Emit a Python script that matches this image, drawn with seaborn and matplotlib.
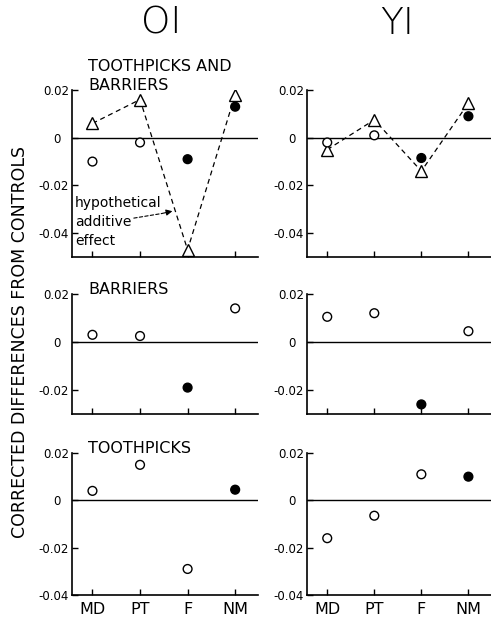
import pandas as pd
import matplotlib
matplotlib.use("Agg")
import matplotlib.pyplot as plt
import seaborn as sns

# data
groups = ["MD", "PT", "F", "NM"]

oi_both = [-0.010, -0.002, -0.009, 0.013]
oi_both_sig = [False, False, True, True]
oi_additive = [0.006, 0.016, -0.047, 0.018]
yi_both = [-0.002, 0.001, -0.0085, 0.009]
yi_both_sig = [False, False, True, True]
yi_additive = [-0.005, 0.0075, -0.014, 0.0145]

oi_barriers = [0.003, 0.0025, -0.019, 0.014]
oi_barriers_sig = [False, False, True, False]
yi_barriers = [0.0105, 0.012, -0.026, 0.0045]
yi_barriers_sig = [False, False, True, False]

oi_toothpicks = [0.004, 0.015, -0.029, 0.0045]
oi_toothpicks_sig = [False, False, False, True]
yi_toothpicks = [-0.016, -0.0065, 0.011, 0.010]
yi_toothpicks_sig = [False, False, False, True]

col_titles = ["OI", "YI"]
row_titles = ["TOOTHPICKS AND\nBARRIERS", "BARRIERS", "TOOTHPICKS"]
row_ylims = [(-0.05, 0.02), (-0.03, 0.02), (-0.04, 0.02)]
yticks = [0.02, 0, -0.02, -0.04]
ytick_labels = ["0.02", "0  ", "-0.02", "-0.04"]

panels = [
    [(oi_both, oi_both_sig, oi_additive), (yi_both, yi_both_sig, yi_additive)],
    [(oi_barriers, oi_barriers_sig, None), (yi_barriers, yi_barriers_sig, None)],
    [(oi_toothpicks, oi_toothpicks_sig, None), (yi_toothpicks, yi_toothpicks_sig, None)],
]

sns.set_style("ticks")
plt.rcParams["font.family"] = ["DejaVu Sans"]
plt.rcParams["axes.unicode_minus"] = False
for k in ["text.color", "axes.labelcolor", "xtick.color", "ytick.color", "axes.edgecolor"]:
    plt.rcParams[k] = "black"

W, H = 491, 619
fig = plt.figure(figsize=(W / 100, H / 100), dpi=100)

# panel boxes in pixels
col_px = [(72, 186), (307, 184)]
row_px = [(90, 257), (294, 414), (453, 595)]
title_y = [1.0, 1.003, 1.0]

for r in range(3):
    for c in range(2):
        left, width = col_px[c]
        top, bottom = row_px[r]
        ax = fig.add_axes([left / W, 1 - bottom / H, width / W, (bottom - top) / H])
        vals, sig, additive = panels[r][c]
        df = pd.DataFrame({"group": groups, "value": vals,
                           "sig": ["filled" if s else "open" for s in sig]})

        ax.axhline(0, color="black", lw=1.0, zorder=1)
        if additive is not None:
            sns.lineplot(x=groups, y=additive, ax=ax, sort=False, color="black",
                         lw=0.9, linestyle=(0, (4, 3)), marker="^", markersize=8.5,
                         markerfacecolor="white", markeredgecolor="black",
                         markeredgewidth=1.0, zorder=2)
        sns.scatterplot(data=df, x="group", y="value", hue="sig",
                        palette={"filled": "black", "open": "white"},
                        edgecolor="black", linewidth=1.0, s=40, legend=False,
                        ax=ax, zorder=3)

        ax.set_xlim(-0.43, 3.48)
        lo, hi = row_ylims[r]
        ax.set_ylim(lo, hi)
        tk = [(t, l) for t, l in zip(yticks, ytick_labels) if lo - 1e-9 <= t <= hi + 1e-9]
        ax.set_yticks([t for t, _ in tk])
        ax.set_yticklabels([l for _, l in tk])
        ax.set_xlabel("")
        ax.set_ylabel("")
        for s in ["top", "right"]:
            ax.spines[s].set_visible(False)
        for s in ["left", "bottom"]:
            ax.spines[s].set_linewidth(1.2)
        ax.tick_params(axis="y", direction="in", length=4, width=1, labelsize=8.5, pad=2)
        ax.tick_params(axis="x", direction="in", length=4, width=1, labelsize=11.5, pad=5)
        if r < 2:
            ax.tick_params(axis="x", labelbottom=False)

        if c == 0:
            ax.text(0.086, title_y[r], row_titles[r], transform=ax.transAxes,
                    va="baseline", ha="left", fontsize=11.5, linespacing=1.3)
        if r == 0 and c == 0:
            ax.text(0.016, 0.072, "hypothetical\nadditive\neffect",
                    transform=ax.transAxes, va="baseline", ha="left",
                    fontsize=10, linespacing=1.45)
            ax.annotate("", xy=(1.45, -0.0318), xytext=(0.87, -0.0337),
                        arrowprops=dict(arrowstyle="-", color="black", lw=0.8,
                                        linestyle=(0, (3, 2)), shrinkA=0, shrinkB=0))
            ax.annotate("", xy=(1.68, -0.0308), xytext=(1.45, -0.0318),
                        arrowprops=dict(arrowstyle="-|>", color="black", lw=0.8,
                                        mutation_scale=9, shrinkA=0, shrinkB=0))

fig.text(161 / W, 1 - 23 / H, col_titles[0], ha="center", va="center",
         fontsize=27, fontweight="light")
fig.text(397 / W, 1 - 23 / H, col_titles[1], ha="center", va="center",
         fontsize=27, fontweight="light")
fig.text(20 / W, 1 - 342 / H, "CORRECTED DIFFERENCES FROM CONTROLS",
         rotation=90, ha="center", va="center", fontsize=12.5)

fig.savefig("out.png", dpi=100)
